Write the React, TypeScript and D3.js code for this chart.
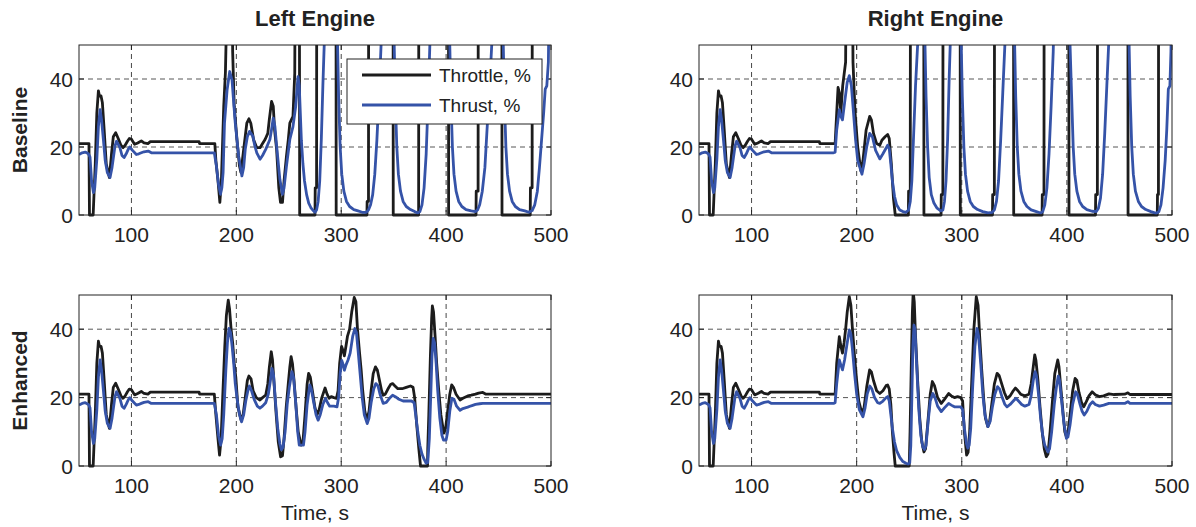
import React from "react";
import * as d3 from "d3";

type Pt = [number, number];

// ---- Data (time s, percent) ----
const commonThrottle: Pt[] = [[50,21],[59.5,21],[60,0],[63.5,0],[65.5,15],[67,30],[68.5,36.5],[69.5,35],[71,35],[72.3,33],[74,25],[76,15],[79,11],[81,18],[82.7,23],[85,24.2],[87.4,22.5],[90,20.5],[92,19.8],[94,20.5],[96.2,21.7],[98,22.5],[100,22.3],[103,20.8],[106,21.2],[109.4,21.8],[112,21.2],[115.7,21],[118,21.6],[164.5,21.6],[165,21],[178,21]];
const commonThrust: Pt[] = [[50,17.8],[53,18.3],[56,18.5],[59,18],[60.5,17],[62,10],[63.8,6.6],[65,8],[67,16.4],[68.5,26],[70.1,31],[71.5,28],[73.3,22],[75,16],[77,12.5],[79.6,11],[81.5,14],[84.3,20.3],[85.8,21.7],[89,19.8],[91,17.5],[93,16.9],[95,18],[96.9,19.3],[98.4,20],[101,19],[104.7,17.8],[107,18],[109.4,18.3],[112,18.6],[116,18.8],[119,18.3],[178,18.3]];

const baseLeftThrottle: Pt[] = [[179.5,21],[180.5,16],[182.4,10.5],[184.3,3.7],[185.8,10.5],[188,32],[189.6,42],[190.5,55],[191.5,100],[195.5,100],[196.5,48],[198,32],[200.6,22.2],[203,14.4],[204.4,12.5],[207,19.3],[210,27],[212,28.3],[213.8,27],[216.4,22.2],[219.5,19.8],[222.6,19.8],[225,21],[227.4,22.2],[230,24],[231.4,28],[233.6,33.4],[235.2,32],[236.5,25],[238.4,19.3],[240.5,8],[242.1,3.7],[244,3.7],[245.5,10],[247.8,17.3],[249.5,22],[251,27],[254,29],[255.7,41.7],[256.5,100],[260,100],[260.4,0],[275,0],[275.2,8],[276.5,8],[276.7,100],[295,100],[295.2,0],[324.5,0],[324.7,4],[326,4],[326.2,100],[349.4,100],[349.6,0],[373.8,0],[374,100],[402.2,100],[402.4,0],[428.5,0],[428.7,7],[430.5,7],[430.7,100],[453.1,100],[453.3,0],[480.2,0],[480.4,8],[482,8],[482.2,100],[500,100]];
const baseLeftThrust: Pt[] = [[179,18.3],[181,14.4],[183,9],[184.9,6.1],[186.2,8],[187.4,12.5],[188.7,27],[191.2,36.8],[193.7,42.2],[195.9,39.7],[197.5,33],[199,27],[202.2,17.3],[205.3,11.5],[207,14],[208.5,19.3],[210.5,23],[212.6,24.6],[215.7,23.2],[217.5,20.5],[219.5,18.3],[222.6,16.4],[225,17.5],[228,19.3],[232,22.2],[233.5,25],[235.2,28.5],[236.8,26],[238.4,20.3],[241.5,10.5],[244,6.1],[245.5,8],[247.8,14.4],[251,22.2],[254,26],[256.6,32],[258.8,40.7],[260,38],[262,22],[263.5,15],[265,10],[267,6],[269,3.5],[271,2.2],[273,1.4],[275,0.8],[276.5,1.5],[278,4],[279.5,10],[281,22],[282.5,38],[284,52],[285,70],[295,70],[296.5,50],[297.5,35],[299,20],[300.5,12],[302.5,7],[305,4],[308,2.5],[312,1.6],[316,1.2],[320,0.8],[324,0.8],[326,1.5],[328,3],[330,6],[332,12],[334,22],[336,35],[338,50],[339.5,70],[349.5,70],[350.5,50],[351.5,35],[353,20],[354.5,12],[356.5,7],[359,4],[362,2.5],[366,1.6],[370,1],[373,0.6],[375,1],[377,3],[379,8],[381,18],[383,35],[384.5,50],[386,70],[402.5,70],[403.5,50],[404.5,35],[406,20],[407.5,12],[409.5,7],[412,4],[415,2.5],[419,1.6],[424,1.2],[428,1],[430,1.5],[432,3],[434.5,7],[437,14],[439,25],[441.5,38],[443.5,50],[445,70],[453.5,70],[454.5,50],[455.5,35],[457,20],[458.5,12],[460.5,7],[463,4],[466,2.5],[470,1.6],[475,1.2],[479,0.8],[482,1.3],[484.5,3],[487,7],[489,14],[491,22],[493,30],[494.5,37],[496,38],[497.5,45],[498.5,70],[500,70]];

const baseRightThrottle: Pt[] = [[179.5,21],[181,30],[182.3,37.5],[183.5,36],[184.9,30],[186.7,38],[189.5,45],[190.5,100],[195.5,100],[196.5,45],[198.5,30],[201,20],[204,13],[206,16],[209,25],[212.4,29],[214,28],[216,24],[219,21],[222,20.5],[224,22],[227,23],[229.5,23.7],[231,22.5],[233,15],[235,5],[236.7,0],[249.2,0],[249.4,7],[251,7],[251.2,100],[263.8,100],[264,0],[280.3,0],[280.5,6],[282,6],[282.2,100],[298.4,100],[298.6,0],[329.2,0],[329.4,6],[331,6],[331.2,100],[349.2,100],[349.4,0],[376.4,0],[376.6,6],[378.2,6],[378.4,100],[401.8,100],[402,0],[427.2,0],[427.4,6],[429,6],[429.2,100],[458,100],[458.2,0],[486,0],[486.2,6],[487.1,6],[487.3,100],[500,100]];
const baseRightThrust: Pt[] = [[179.5,18.5],[181,25],[183.5,31],[185,29],[186.5,28],[188.5,33],[191,39],[193,41],[195,38],[197,30],[199,22],[201,16],[205,12],[207,15],[209.5,20],[212.4,24],[215,23],[218,19],[222,16.5],[225,18],[229.5,20.5],[231,19.5],[232.5,15],[234,10],[236,5.5],[238,3],[241,1.5],[244,1],[247,0.8],[249.4,1.5],[251,4],[252.5,10],[254,22],[256,38],[258,50],[259.5,70],[264,70],[265,50],[266,35],[267.5,20],[269,11],[271,6],[273.5,3.5],[276.5,2],[280,1.2],[282,1.5],[283.5,4],[285,10],[286.5,22],[288,40],[289.5,55],[290.5,70],[298.5,70],[299.5,50],[300.5,35],[302,20],[303.5,12],[305.5,7],[308,4],[311,2.5],[315,1.6],[320,1],[325,0.6],[329,0.8],[331,1.5],[333,4],[335,10],[337,22],[339,36],[341,50],[342.5,70],[349.3,70],[350.3,50],[351.3,35],[352.8,20],[354.3,12],[356.3,7],[359,4],[362,2.5],[366,1.5],[371,1],[375,0.6],[377,1],[379,3],[381,8],[383,18],[385,32],[387,48],[388.5,70],[402,70],[403,50],[404.5,35],[406,20],[407.5,12],[409.5,7],[412,4],[415,2.5],[419,1.6],[424,1.1],[428,1],[430,2],[432,5],[434,12],[436,24],[438,38],[440,52],[441,70],[458.2,70],[459.2,50],[460.2,35],[461.7,20],[463.2,12],[465.2,7],[468,4],[471,2.5],[475,1.6],[480,1],[485,0.5],[487.5,1],[489.5,3],[491.5,8],[493.5,16],[495,25],[496.5,37],[498,38],[499,48],[500,70]];

const enhLeftThrottle: Pt[] = [[179,21],[180.5,15],[182.5,8],[184,3.2],[185.5,8],[187,20],[189,35],[190.5,44],[192.3,48.5],[193.5,46],[195,40],[196.5,36],[198,30],[199.5,26],[201.5,17.3],[204.6,13.4],[206.5,15],[208.5,20],[210.5,25],[212,26.3],[214,25.5],[216,22],[219,20],[222.5,19.3],[225,20],[228,20.7],[230,24],[231.5,29],[233.3,33.4],[234.5,31],[236,24],[238,15],[240,7],[242.2,2.7],[244,3],[245.5,8],[247.5,17],[249.5,24],[251,29],[252.2,32],[253.5,30],[255,25],[257,17],[259,10],[261.8,6.1],[263.5,7],[265.5,15],[267.5,24],[268.9,27.1],[270.5,26],[272.5,22],[275,17],[277,15],[279,16.5],[281.5,20],[284.6,22.8],[286.5,21],[288.5,19.8],[290.5,20.3],[293,20],[295.5,19.8],[297,22],[298.5,30],[300.3,35],[302,33.5],[303,32.2],[304.5,35],[306,38],[308,40],[310,45],[312.4,49.3],[314,48],[315.5,40],[317.5,33],[319,28.1],[320.5,22],[322.5,16],[324.5,13.4],[326.5,16],[328.5,22],[330.5,27],[332.7,29],[334.5,28],[336.5,25],[338.5,22],[340,20.7],[342,21],[344.5,22.5],[347,23.8],[349,24.1],[351,23.5],[354,22.6],[358,22.6],[362,23],[366,23.4],[368.5,23],[370,20],[372,12],[374,5],[375.6,0],[382.3,0],[382.5,5],[383.5,15],[385,32],[386.2,43],[386.9,46.8],[388,45],[389.5,38],[391,30],[393,22],[395,15],[397.8,9.6],[399.5,11],[401.5,16],[403.5,21],[405.3,23.7],[407,23],[409.5,21],[413.3,19.3],[416,19.8],[420.6,20.5],[424,20.7],[428,21],[431,21.3],[435,21.5],[438,21],[500,21]];
const enhLeftThrust: Pt[] = [[179,18.3],[181,15],[183,9],[185,6.1],[186.5,8],[188,15],[190,28],[191.5,36],[193,40.2],[194.5,39],[196,35],[197.5,30],[199,24],[201,19],[203,15],[205,12.9],[207,15],[209,19],[211,22],[212.5,23.4],[214.5,22],[217,19.5],[220,17.5],[222.5,16.9],[225,17.5],[228,18.5],[230.5,21],[232.5,25],[234,28.5],[235.5,26.5],[237.5,18],[239.5,11],[241.5,6.5],[243,4.7],[244.5,5.5],[246.5,10],[248.5,18],[250.5,23],[253,27.6],[254.5,26],[256.5,19],[258.5,10],[260,6.1],[264,6.1],[265.5,10],[267.5,18],[270,23.7],[271.5,22.5],[273.5,19],[276,15],[278,13.4],[280,15],[282.5,18],[285,19.8],[287,18.5],[289,17.5],[293,17.5],[296,17.3],[297.5,20],[299,27],[300.5,30.9],[302,29.5],[303,28],[304.5,29.5],[306.5,31],[308.5,33],[311,38],[313,40.2],[314.5,39],[316,34],[318,27],[320,20],[322,15],[324.8,12.4],[326.5,14],[328.5,18.5],[331,22.5],[333,24.1],[335,23.5],[337,21],[340,18.3],[343,18.6],[346,19.8],[349,20.7],[352,20.2],[355,19.5],[359,19],[363,19],[367,19],[369.5,18.5],[371,15],[373,10],[375,6],[377,3.5],[379,2],[381,0.8],[382.5,1],[384,8],[385.5,22],[386.5,32],[387.7,37.3],[389,36],[390.5,30],[392,22],[394,14],[396,9],[397.5,7.6],[400,7.6],[401.5,10],[403.5,16],[405.5,19.8],[407.5,19.5],[410,17.5],[413.3,16.3],[416,16.8],[420.6,17.2],[424,17.6],[428,18],[432,18.2],[435,18.3],[500,18.3]];

const enhRightThrottle: Pt[] = [[179.5,21],[181,30],[183.5,37.8],[185,35],[186.5,33],[188,36],[189.5,40],[191,45],[193,49.5],[194.5,47],[196,40],[198,32],[200,25],[202,19],[205,15.4],[207,17],[209.5,23],[212.3,28.1],[214,27.5],[216,25],[219,22],[222,21.2],[225,22],[228,23.5],[229.5,23.7],[231,22.5],[232.5,18],[234,10],[235.5,4],[236.7,0],[250,0],[250.8,10],[252,30],[253,45],[253.8,51],[254.8,48],[256,38],[258,25],[260,14],[262,7],[264,4.1],[265.5,5],[267.5,12],[270,21],[272,24.7],[274,23.5],[277,20],[280.5,18.3],[283.5,19.5],[287.5,21.2],[290,20.5],[293,20],[296,20.3],[299,20],[300.8,19],[302.5,10],[304.6,3.2],[306,4],[307.5,10],[309.5,25],[311.5,40],[313.8,49.5],[315.5,47],[317,38],[319,28],[321,19],[322.5,14],[324.8,11.5],[326.5,13],[328.5,18],[331,24],[333.6,27.1],[335.5,26.5],[338,24],[340.5,21.5],[343,19.7],[346,20.5],[349,22],[351,22.8],[353.5,22],[356,21],[360,20.5],[364,21],[366,24],[368,29],[369.4,32.5],[370.5,31],[372.5,25],[374.5,17],[376.5,10],[378.5,5],[380.4,2.7],[382,3.5],[384,10],[386.5,20],[388.5,27],[391.3,31],[392.5,29],[394.5,22],[396.5,15],[398,10],[399.5,8.6],[401,9.5],[403,15],[405.5,22],[407.8,25.6],[409.5,25],[411.5,21.5],[414,18.5],[416,17.3],[418,18.5],[421,20.5],[424,21.7],[427,20.8],[431,20.3],[435,20.5],[440,21.1],[445,20.9],[455,21],[458,21.4],[460,20.9],[500,20.9]];
const enhRightThrust: Pt[] = [[179.5,18.5],[181,24],[183.5,31],[185,29.5],[186.5,28.1],[188.5,31],[190.5,35],[193,39.8],[194.5,38.5],[196,34],[198,27],[200,21],[202.5,16.5],[206,14.4],[208,17],[210,21],[212.5,23.4],[214.5,22.5],[217,20],[220,18.5],[222,18.3],[225,19],[228,20],[229.5,20.3],[231,19],[232.5,15],[234,11],[236,7],[238,4.5],[241,2.5],[244,1.3],[247,0.8],[249,0.5],[250.5,1],[251.5,6],[252.5,20],[253.5,35],[254.5,41.2],[255.5,40],[257,30],[259,17],[261,9],[263,5.5],[264.5,4.8],[266,6],[268,13],[270,19],[272.5,21.2],[274.5,20],[277,17.5],[280.5,15.9],[283.5,17],[287.5,18.3],[290,17.8],[293,17.3],[299,17.3],[300.8,16.5],[302.5,11],[304.5,6.5],[305.7,5.2],[307,6],[308.5,11],[310.5,24],[312.5,35],[314.5,40.2],[316,38],[318,30],[320,21],[322,15],[324.8,11.5],[327,13],[329,17],[331.5,21],[334,23.2],[336,22.5],[338.5,20],[341,18],[343,17.3],[346,18],[349,19],[351.5,19.8],[354,19],[357,18],[360,17.5],[364,18],[366,20.5],[368,25],[369.8,27.6],[371,26.5],[373,21],[375,14],[377,9],[379,6],[382,4.1],[383.5,5],[385.5,10],[388,18],[390,23],[391.8,26.3],[393,25],[395,19],[397,13],[399.5,8.1],[401,8.5],[403,12],[405.5,18],[408.3,21.7],[410,21],[412.5,18],[414.5,16],[416.5,14.9],[419,16],[422,18],[424.5,18.8],[427,18],[431,17.5],[435,17.8],[440,18.3],[455,18.3],[458,18.8],[460,18.3],[500,18.3]];

const xTicks = [100, 200, 300, 400, 500];
const yTicks = [0, 20, 40];
const columnTitles = ["Left Engine", "Right Engine"];
const rowLabels = ["Baseline", "Enhanced"];
const legendLabels = ["Throttle, %", "Thrust, %"];
const xLabel = "Time, s";

// ---- Layout ----
const W = 1196, H = 527;
const colX: [number, number][] = [[79, 551], [699, 1172]];
const rowY: [number, number][] = [[45, 215], [295, 466]];
const BLACK = "#1c1c1c";
const BLUE = "#3553a8";
const FONT = "'Liberation Sans', Arial, Helvetica, sans-serif";

const panels = [
  { row: 0, col: 0, throttle: [...commonThrottle, ...baseLeftThrottle], thrust: [...commonThrust, ...baseLeftThrust], legend: true },
  { row: 0, col: 1, throttle: [...commonThrottle, ...baseRightThrottle], thrust: [...commonThrust, ...baseRightThrust], legend: false },
  { row: 1, col: 0, throttle: [...commonThrottle, ...enhLeftThrottle], thrust: [...commonThrust, ...enhLeftThrust], legend: false },
  { row: 1, col: 1, throttle: [...commonThrottle, ...enhRightThrottle], thrust: [...commonThrust, ...enhRightThrust], legend: false },
];

function Panel({ p, idx }: { p: typeof panels[number]; idx: number }) {
  const [x0, x1] = colX[p.col];
  const [y0, y1] = rowY[p.row];
  const x = d3.scaleLinear().domain([50, 500]).range([x0, x1]);
  const y = d3.scaleLinear().domain([0, 50]).range([y1, y0]);
  const line = d3.line<Pt>().x((d) => x(d[0])).y((d) => y(d[1]));
  const clipId = `clip${idx}`;
  return (
    <g>
      <defs>
        <clipPath id={clipId}>
          <rect x={x0} y={y0} width={x1 - x0} height={y1 - y0 + 2} />
        </clipPath>
      </defs>
      <rect x={x0} y={y0} width={x1 - x0} height={y1 - y0} fill="#fff" />
      {xTicks.filter((t) => t < 500).map((t) => (
        <line key={"gx" + t} x1={x(t)} x2={x(t)} y1={y0} y2={y1} stroke="#333" strokeWidth={0.9} strokeDasharray="5,4" />
      ))}
      {yTicks.filter((v) => v > 0).map((v) => (
        <line key={"gy" + v} x1={x0} x2={x1} y1={y(v)} y2={y(v)} stroke="#444" strokeWidth={0.9} strokeDasharray="5,4" />
      ))}
      {xTicks.map((t) => (
        <g key={"tx" + t}>
          <line x1={x(t)} x2={x(t)} y1={y1} y2={y1 - 5} stroke="#222" />
          <line x1={x(t)} x2={x(t)} y1={y0} y2={y0 + 5} stroke="#222" />
        </g>
      ))}
      {yTicks.map((v) => (
        <g key={"ty" + v}>
          <line x1={x0} x2={x0 + 5} y1={y(v)} y2={y(v)} stroke="#222" />
          <line x1={x1} x2={x1 - 5} y1={y(v)} y2={y(v)} stroke="#222" />
        </g>
      ))}
      <g clipPath={`url(#${clipId})`}>
        <path d={line(p.throttle) || ""} fill="none" stroke={BLACK} strokeWidth={2.8} strokeLinejoin="round" />
        <path d={line(p.thrust) || ""} fill="none" stroke={BLUE} strokeWidth={2.8} strokeLinejoin="round" />
      </g>
      <rect x={x0} y={y0} width={x1 - x0} height={y1 - y0} fill="none" stroke="#222" strokeWidth={1} />
      {xTicks.map((t) => (
        <text key={"lx" + t} x={x(t)} y={y1 + 27} textAnchor="middle" fontSize={21} fill="#222" fontFamily={FONT}>{t}</text>
      ))}
      {yTicks.map((v) => (
        <text key={"ly" + v} x={x0 - 6} y={y(v) + 7.5} textAnchor="end" fontSize={21} fill="#222" fontFamily={FONT}>{v}</text>
      ))}
      {p.legend && (
        <g>
          <rect x={347} y={59} width={195} height={65} fill="#fff" stroke="#222" strokeWidth={1} />
          <line x1={362} x2={431} y1={75} y2={75} stroke={BLACK} strokeWidth={2.8} />
          <line x1={362} x2={431} y1={105} y2={105} stroke={BLUE} strokeWidth={2.8} />
          <text x={439} y={82} fontSize={19} fill="#222" fontFamily={FONT}>{legendLabels[0]}</text>
          <text x={439} y={112} fontSize={19} fill="#222" fontFamily={FONT}>{legendLabels[1]}</text>
        </g>
      )}
    </g>
  );
}

export default function App() {
  return (
    <svg width={W} height={H} style={{ position: "absolute", left: 0, top: 0, background: "#fff" }}>
      <rect x={0} y={0} width={W} height={H} fill="#fff" />
      {panels.map((p, i) => <Panel key={i} p={p} idx={i} />)}
      {columnTitles.map((t, i) => (
        <text key={t} x={(colX[i][0] + colX[i][1]) / 2} y={26} textAnchor="middle" fontSize={22} fontWeight="bold" fill="#222" fontFamily={FONT}>{t}</text>
      ))}
      {rowLabels.map((t, i) => (
        <text key={t} transform={`translate(27,${(rowY[i][0] + rowY[i][1]) / 2}) rotate(-90)`} textAnchor="middle" fontSize={21} fontWeight="bold" fill="#222" fontFamily={FONT}>{t}</text>
      ))}
      {colX.map((c, i) => (
        <text key={"xl" + i} x={(c[0] + c[1]) / 2} y={520} textAnchor="middle" fontSize={21} fill="#222" fontFamily={FONT}>{xLabel}</text>
      ))}
    </svg>
  );
}
